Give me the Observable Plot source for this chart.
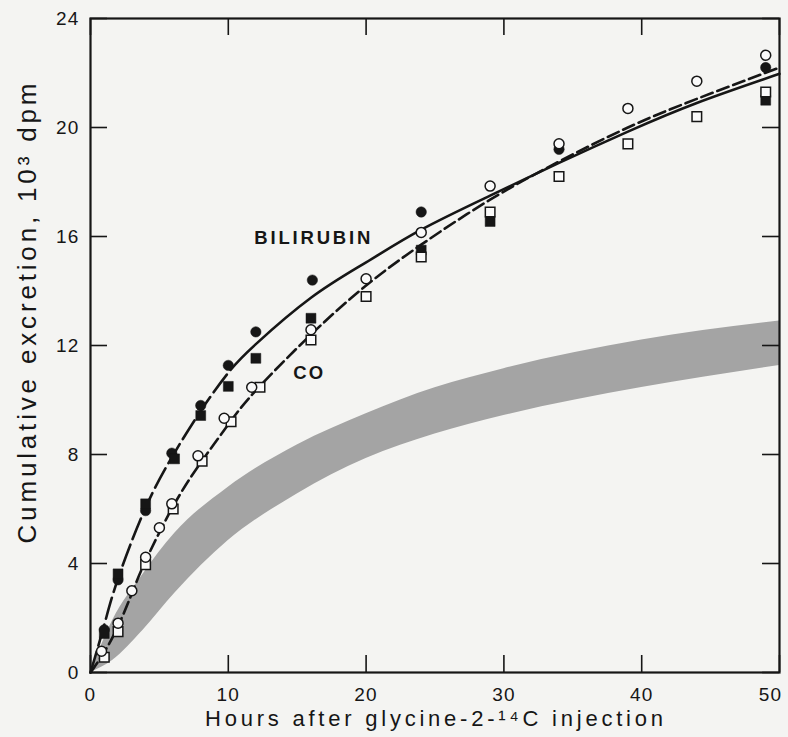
<!DOCTYPE html>
<html>
<head>
<meta charset="utf-8">
<script src="https://cdn.jsdelivr.net/npm/d3@7"></script>
<script src="https://cdn.jsdelivr.net/npm/@observablehq/plot@0.6"></script>
<style>
  html, body { margin: 0; padding: 0; background: #f4f4f2; }
  #chart svg { display: block; }
</style>
</head>
<body>
<div id="chart"></div>
<script>
// ---- tick values ----
const xTicks = [0, 10, 20, 30, 40];
const xTickLast = [50];
const yTicks = [0, 4, 8, 12, 16, 20, 24];
const xTickMarks = [0, 10, 20, 30, 40, 50];

// ---- observed points (hours, 10^3 dpm) ----
const bilirubinCircleHours  = [1, 2, 4, 5.9, 8, 10, 12, 16.1, 24, 34, 49];
const bilirubinCircleValues = [1.57, 3.4, 5.94, 8.05, 9.8, 11.27, 12.5, 14.4, 16.9, 19.2, 22.2];

const bilirubinSquareHours  = [1, 2, 4, 6.1, 8, 10, 12, 16, 24, 29, 49];
const bilirubinSquareValues = [1.43, 3.62, 6.19, 7.84, 9.43, 10.5, 11.53, 13.0, 15.5, 16.55, 21.0];

const coCircleHours  = [0.8, 2, 3, 4, 5, 5.9, 7.8, 9.7, 11.7, 16, 20, 24, 29, 34, 39, 44, 49];
const coCircleValues = [0.78, 1.81, 3.0, 4.23, 5.31, 6.19, 7.95, 9.33, 10.47, 12.58, 14.45, 16.15, 17.85, 19.4, 20.7, 21.7, 22.65];

const coSquareHours  = [1, 2, 4, 6, 8.1, 10.2, 12.3, 16, 20, 24, 29, 34, 39, 44, 49];
const coSquareValues = [0.56, 1.5, 3.96, 6.0, 7.75, 9.2, 10.47, 12.2, 13.8, 15.25, 16.9, 18.2, 19.4, 20.4, 21.3];

// ---- fitted curves ----
const bilirubinCurveHours  = [0, 1, 2, 4, 6, 8, 10, 12, 16, 20, 24, 29, 34, 39, 44, 50];
const bilirubinCurveValues = [0, 1.75, 3.45, 6.05, 7.98, 9.6, 11.0, 12.05, 13.75, 15.05, 16.25, 17.5, 18.7, 19.85, 20.9, 21.97];

const coCurveHours  = [0, 1, 2, 3, 4, 6, 8, 10, 12, 16, 20, 24, 29, 34, 39, 44, 50];
const coCurveValues = [0, 0.75, 1.7, 2.9, 4.1, 6.1, 7.7, 9.1, 10.35, 12.4, 14.2, 15.7, 17.35, 18.75, 20.0, 21.05, 22.2];

// ---- shaded band ----
const bandHours = [0, 1.6, 3.8, 6.1, 10, 15, 20, 25, 30, 40, 50];
const bandLower = [0, 0.44, 1.54, 2.9, 4.84, 6.55, 7.85, 8.75, 9.43, 10.46, 11.27];
const bandUpper = [0, 1.9, 3.6, 5.1, 6.8, 8.35, 9.5, 10.45, 11.15, 12.2, 12.9];

// ---- in-plot labels ----
const curveLabels = ["BILIRUBIN", "CO"];
const curveLabelHours = [16.1, 15.8];
const curveLabelValues = [15.93, 10.97];

const xTitle = "Hours after glycine-2-\u00B9\u2074C injection";
const yTitle = "Cumulative excretion, 10\u00B3 dpm";

// ---- tables ----
const zip = (xs, ys) => xs.map((x, i) => ({x, y: ys[i]}));
const bilCircles = zip(bilirubinCircleHours, bilirubinCircleValues);
const bilSquares = zip(bilirubinSquareHours, bilirubinSquareValues);
const coCircles = zip(coCircleHours, coCircleValues);
const coSquares = zip(coSquareHours, coSquareValues);
const bilCurve = zip(bilirubinCurveHours, bilirubinCurveValues);
const coCurve = zip(coCurveHours, coCurveValues);
const band = bandHours.map((x, i) => ({x, lo: bandLower[i], hi: bandUpper[i]}));
const labels = curveLabels.map((t, i) => ({t, x: curveLabelHours[i], y: curveLabelValues[i]}));

const W = 788, H = 737, ML = 90, MR = 9, MT = 18, MB = 65;
const innerW = W - ML - MR, innerH = H - MT - MB;
const TICK = 17;
const ink = "#161616";

const chart = Plot.plot({
  width: W, height: H,
  marginLeft: ML, marginRight: MR, marginTop: MT, marginBottom: MB,
  style: {background: "#f4f4f2", fontFamily: "'Liberation Sans', Arial, Helvetica, sans-serif", fontSize: "19px", color: ink},
  x: {domain: [0, 50]},
  y: {domain: [0, 24]},
  marks: [
    Plot.areaY(band, {x: "x", y1: "lo", y2: "hi", curve: "monotone-x", fill: "#a4a4a4"}),
    // inward ticks on all four sides
    Plot.tickY(yTicks, {y: d => d, insetRight: innerW - TICK, stroke: ink, strokeWidth: 1.6}),
    Plot.tickY(yTicks, {y: d => d, insetLeft: innerW - TICK, stroke: ink, strokeWidth: 1.6}),
    Plot.tickX(xTickMarks, {x: d => d, insetTop: innerH - TICK, stroke: ink, strokeWidth: 1.6}),
    Plot.tickX(xTickMarks, {x: d => d, insetBottom: innerH - TICK, stroke: ink, strokeWidth: 1.6}),
    Plot.frame({stroke: ink, strokeWidth: 2.2}),
    Plot.axisY({ticks: yTicks, tickSize: 0, tickPadding: 11, label: null, fontSize: 19, fill: ink}),
    Plot.axisX({ticks: xTicks, tickSize: 0, tickPadding: 15, label: null, fontSize: 19, fill: ink}),
    Plot.axisX({ticks: xTickLast, tickSize: 0, tickPadding: 15, label: null, fontSize: 19, fill: ink, dx: -9}),
    // curves
    Plot.line(coCurve, {x: "x", y: "y", curve: "natural", stroke: ink, strokeWidth: 2.6, strokeDasharray: "12,5"}),
    Plot.line(bilCurve, {x: "x", y: "y", curve: "natural", stroke: ink, strokeWidth: 2.6}),
    // points
    Plot.dot(bilCircles, {x: "x", y: "y", r: 5.2, fill: ink, stroke: ink, strokeWidth: 0.5}),
    Plot.dot(bilSquares, {x: "x", y: "y", r: 5.6, symbol: "square", fill: ink, stroke: ink, strokeWidth: 0.5}),
    Plot.dot(coSquares, {x: "x", y: "y", r: 5.4, symbol: "square", fill: "#fafafa", stroke: ink, strokeWidth: 1.5}),
    Plot.dot(coCircles, {x: "x", y: "y", r: 5, fill: "#fafafa", stroke: ink, strokeWidth: 1.5}),
    // labels
    Plot.text(labels, {x: "x", y: "y", text: "t", fontWeight: "bold", fontSize: 18.5, fill: ink}),
    Plot.text([xTitle], {frameAnchor: "bottom", textAnchor: "middle", lineAnchor: "bottom", dy: 53, dx: -1, fontSize: 22, fill: ink}),
    Plot.text([yTitle], {frameAnchor: "left", textAnchor: "middle", lineAnchor: "bottom", rotate: -90, dx: -55, dy: -32, fontSize: 26, fill: ink})
  ]
});

document.getElementById("chart").appendChild(chart);

// letter spacing for tick labels (reference type is wide)
chart.querySelectorAll('g[aria-label$="tick label"] text').forEach(el => {
  el.style.letterSpacing = "1.2px";
});

// stretch titles / labels to the reference spacing
const textGroups = chart.querySelectorAll('g[aria-label="text"]');
const stretch = (g, lens) => {
  if (!g) return;
  g.querySelectorAll("text").forEach((el, i) => {
    if (lens[i]) { el.setAttribute("textLength", lens[i]); el.setAttribute("lengthAdjust", "spacing"); }
  });
};
stretch(textGroups[0], [116, 30]);
stretch(textGroups[1], [458]);
stretch(textGroups[2], [460]);

// bilirubin curve: long dashes before ~10 h, solid afterwards
const lineGroups = chart.querySelectorAll('g[aria-label="line"]');
const bilPath = lineGroups.length > 1 ? lineGroups[1].querySelector("path") : null;
if (bilPath) {
  const total = bilPath.getTotalLength();
  const xCut = chart.scale("x").apply(10.4);
  let lo = 0, hi = total;
  for (let k = 0; k < 40; k++) {
    const mid = (lo + hi) / 2;
    if (bilPath.getPointAtLength(mid).x < xCut) lo = mid; else hi = mid;
  }
  const dash = 22, gap = 6;
  const parts = [];
  let acc = 0;
  while (acc + dash + gap <= lo) { parts.push(dash, gap); acc += dash + gap; }
  parts.push(Math.max(1, total - acc + 20), 0);
  bilPath.setAttribute("stroke-dasharray", parts.join(","));
}
</script>
</body>
</html>
